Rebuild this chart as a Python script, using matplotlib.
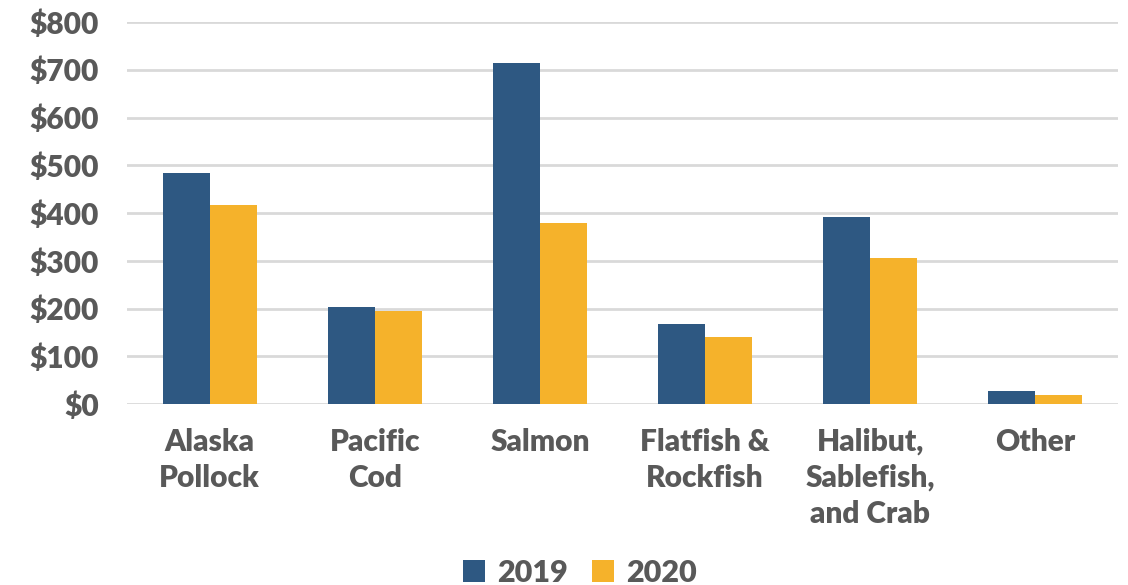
import matplotlib
matplotlib.use("Agg")
import matplotlib.pyplot as plt
from matplotlib.patches import Patch
import numpy as np

# Landed value by species group (millions of dollars)
categories = ["Alaska\nPollock", "Pacific\nCod", "Salmon", "Flatfish &\nRockfish",
              "Halibut,\nSablefish,\nand Crab", "Other"]
values_2019 = [484, 203, 714, 167, 391, 27]
values_2020 = [417, 194, 379, 140, 306, 19]
series_labels = ["2019", "2020"]
yticks = [0, 100, 200, 300, 400, 500, 600, 700, 800]
ytick_labels = ["$0", "$100", "$200", "$300", "$400", "$500", "$600", "$700", "$800"]

BLUE = "#2E5882"
GOLD = "#F5B22B"
TEXT = "#595959"
GRID = "#D9D9D9"

plt.rcParams["font.family"] = ["Lato", "DejaVu Sans"]

fig = plt.figure(figsize=(11.28, 5.85), dpi=100)
ax = fig.add_axes([127 / 1128, (585 - 404) / 585, (1118 - 127) / 1128, (404 - 22) / 585])

x = np.arange(len(categories))
w = 0.285
ax.bar(x - w / 2, values_2019, width=w, color=BLUE, zorder=3)
ax.bar(x + w / 2, values_2020, width=w, color=GOLD, zorder=3)

ax.set_xlim(-0.5, len(categories) - 0.5)
ax.set_ylim(0, 800)
ax.set_yticks(yticks)
ax.set_yticklabels(ytick_labels)
ax.set_xticks(x)
ax.set_xticklabels(categories, linespacing=1.36)

ax.grid(axis="y", color=GRID, linewidth=2, zorder=0)
for s in ax.spines.values():
    s.set_visible(False)
ax.tick_params(axis="both", length=0, colors=TEXT, labelsize=21.5)
ax.tick_params(axis="y", pad=20)
ax.tick_params(axis="x", pad=17)
for lbl in ax.get_xticklabels() + ax.get_yticklabels():
    lbl.set_fontweight("heavy")
    lbl.set_color(TEXT)
for lbl in ax.get_xticklabels():
    lbl.set_verticalalignment("top")

handles = [Patch(facecolor=BLUE), Patch(facecolor=GOLD)]
leg = fig.legend(handles, series_labels, loc="center", bbox_to_anchor=(580 / 1128, 1 - 573 / 585),
                 ncol=2, frameon=False, handlelength=0.72, handleheight=0.72,
                 handletextpad=0.4, columnspacing=0.8,
                 prop={"size": 22, "weight": "heavy"})
for t in leg.get_texts():
    t.set_color(TEXT)

fig.savefig("out.png", dpi=100, facecolor="white")
